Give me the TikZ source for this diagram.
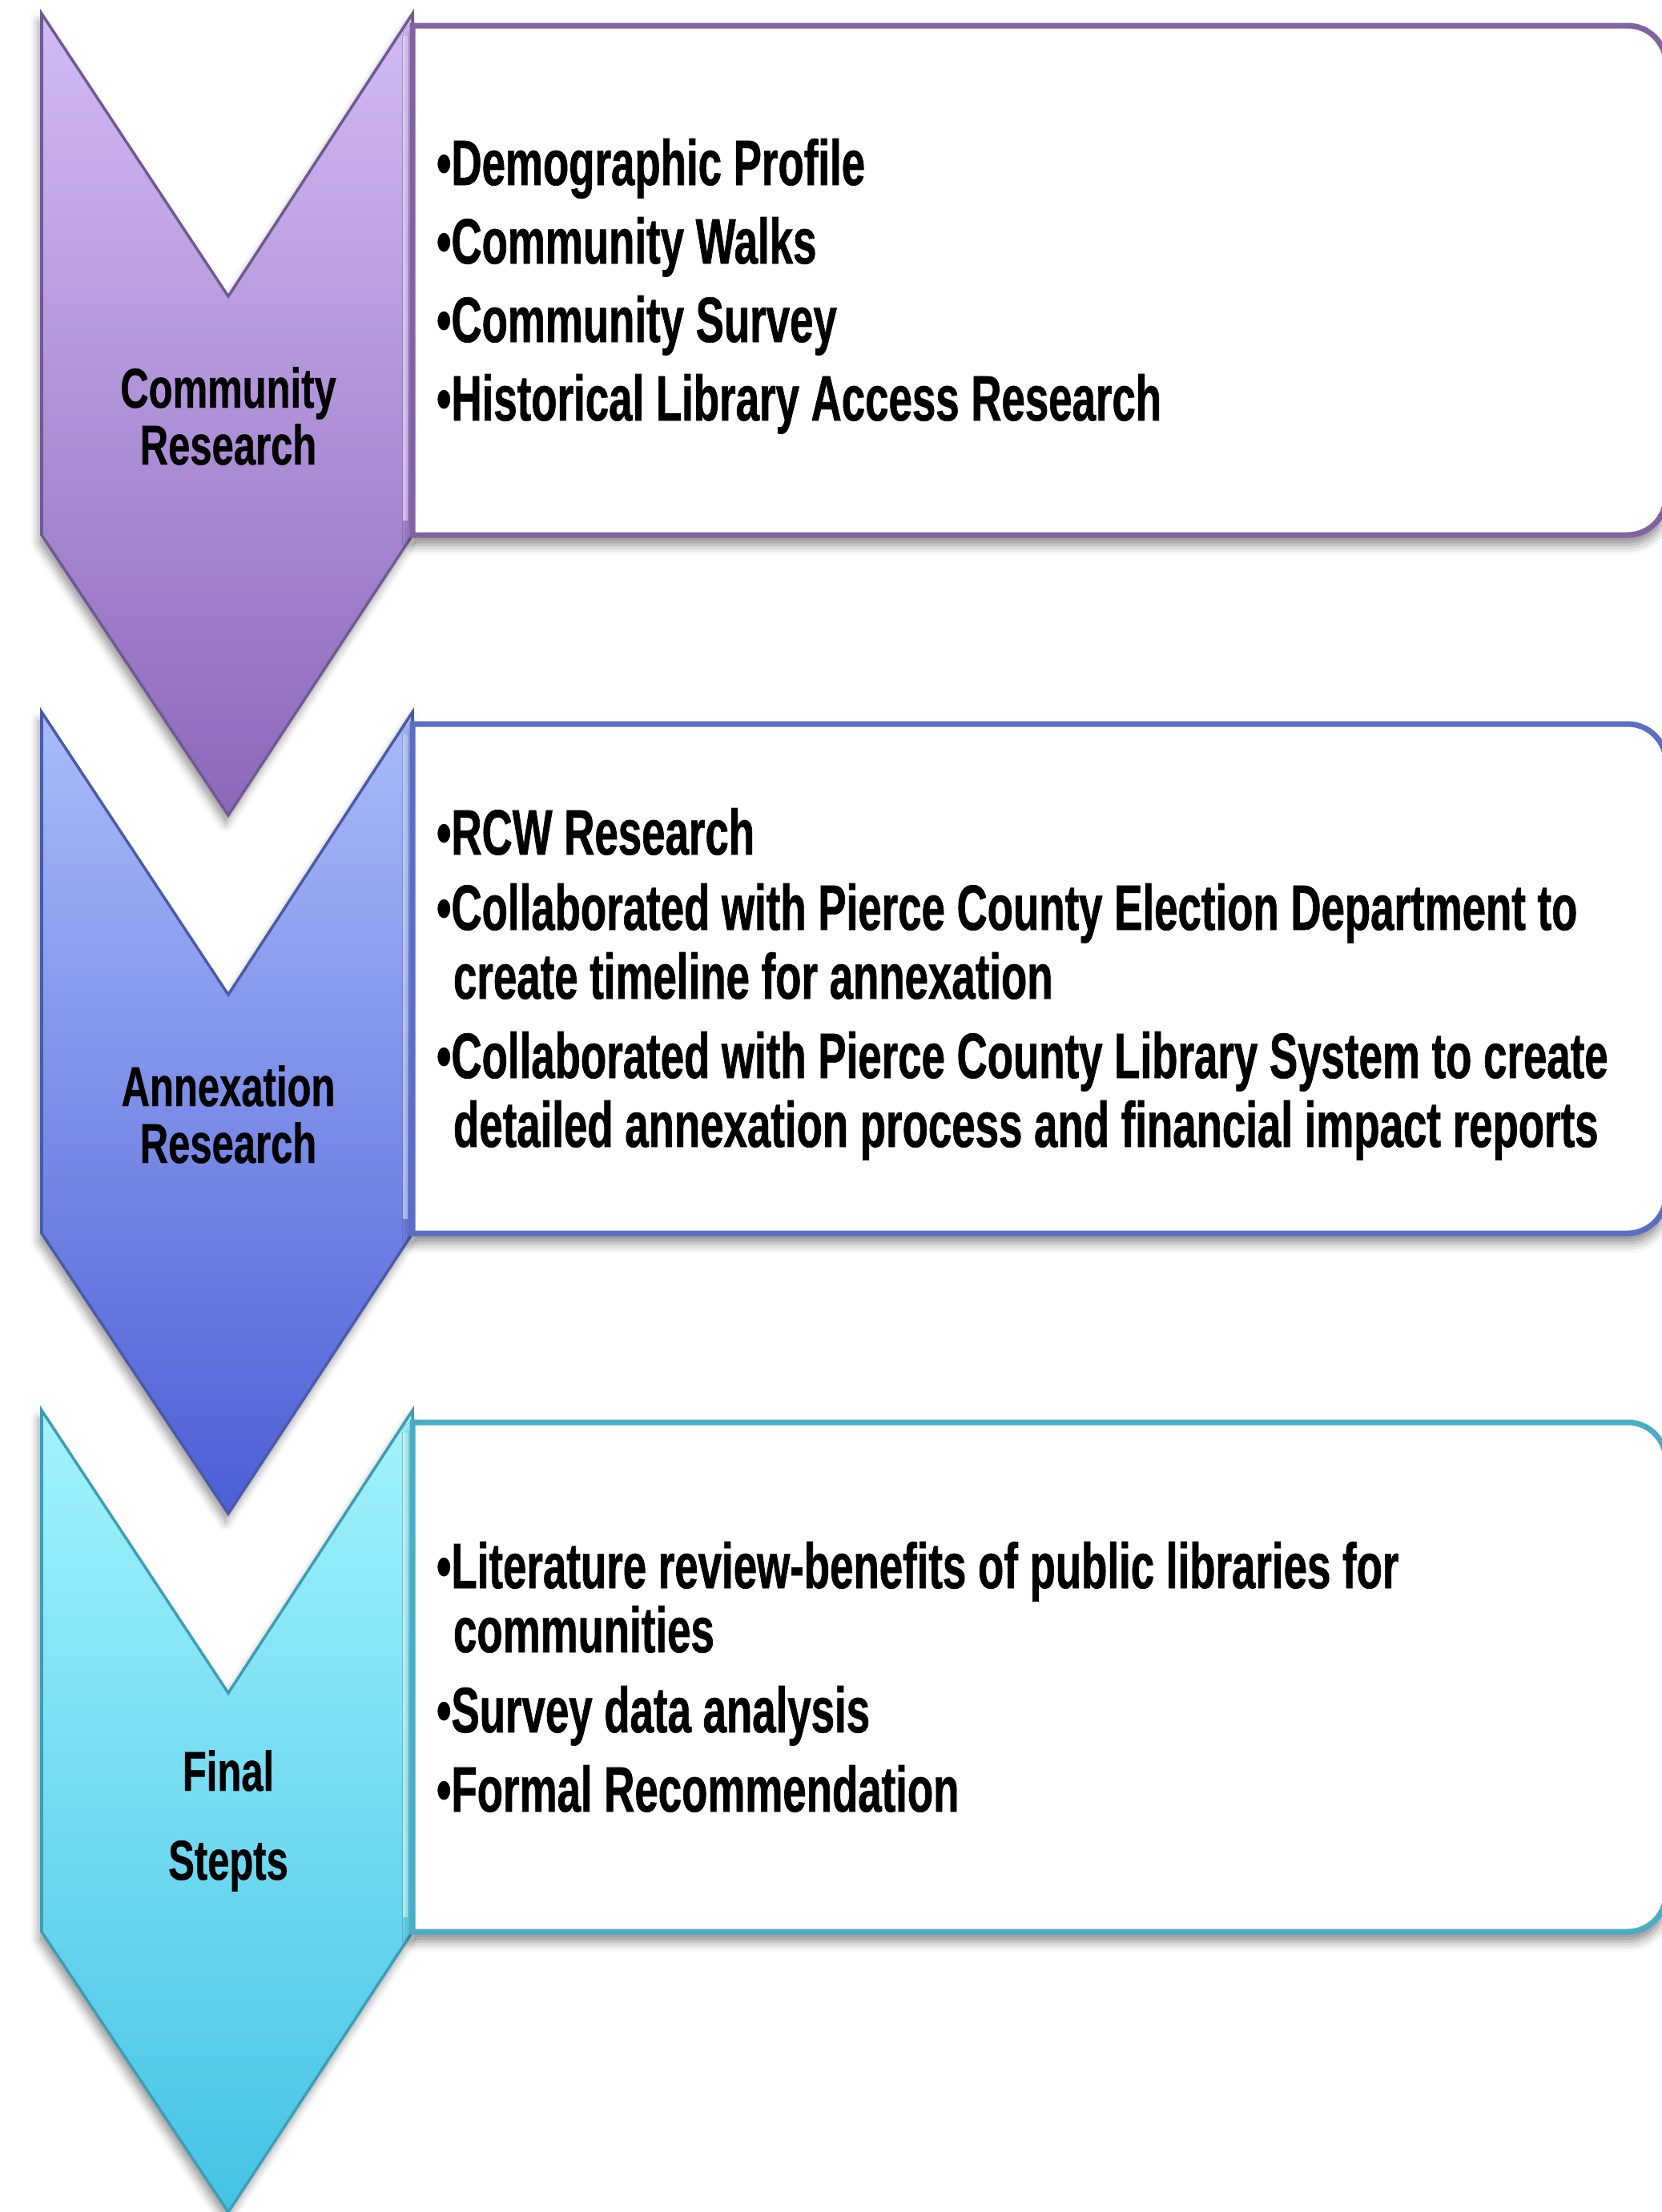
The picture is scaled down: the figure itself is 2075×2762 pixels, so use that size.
\documentclass[tikz,border=0pt]{standalone}
\usepackage{fontspec}
\setmainfont{Liberation Sans}
\newfontfamily\boxfont[FakeStretch=0.66, FakeBold=0.8]{Liberation Sans}
\newfontfamily\labfont[FakeStretch=0.70, FakeBold=0.6]{Liberation Sans}
\usetikzlibrary{shadows.blur}
\definecolor{cAtop}{HTML}{D2BBF4}
\definecolor{cAbot}{HTML}{8B68BB}
\definecolor{cAedge}{HTML}{6F5A92}
\definecolor{cAhl}{HTML}{E6D6FF}
\definecolor{cAbox}{HTML}{8064A2}
\definecolor{cBtop}{HTML}{AABBF9}
\definecolor{cBbot}{HTML}{4D5FD6}
\definecolor{cBedge}{HTML}{4B5AA8}
\definecolor{cBhl}{HTML}{C8D4FF}
\definecolor{cBbox}{HTML}{5C6EC2}
\definecolor{cCtop}{HTML}{A2F3FD}
\definecolor{cCbot}{HTML}{45C3E5}
\definecolor{cCedge}{HTML}{3E9DB5}
\definecolor{cChl}{HTML}{C8FAFF}
\definecolor{cCbox}{HTML}{4BACC6}
\tikzset{
  itemtext/.style={anchor=base west, inner sep=0pt, outer sep=0pt,
    font=\boxfont\bfseries\fontsize{22.76pt}{24pt}\selectfont},
  labtext/.style={anchor=base, inner sep=0pt, outer sep=0pt,
    font=\labfont\bfseries\fontsize{19.9pt}{20pt}\selectfont},
  chevshadow/.style={blur shadow={shadow xshift=-1pt, shadow yshift=-3pt,
    shadow blur radius=3pt, shadow opacity=40}},
  boxshadow/.style={blur shadow={shadow xshift=0pt, shadow yshift=-3.5pt,
    shadow blur radius=3.5pt, shadow opacity=45}},
  chevline/.style={line width=0.035cm, line join=miter},
  boxline/.style={line width=0.07cm, fill=white},
  hlline/.style={line width=0.06cm, opacity=0.8}
}
\begin{document}
\begin{tikzpicture}[x=0.01cm,y=-0.01cm]
\useasboundingbox (0,0) rectangle (2075,2762);
\clip (0,0) rectangle (2075,2762);

% ---------- step 1 ----------
\path[chevshadow, fill=white] (52,17) -- (285,370) -- (515,17) -- (515,668) -- (285,1018) -- (52,668) -- cycle;
\shadedraw[top color=cAtop, bottom color=cAbot, draw=cAedge, chevline]
  (52,17) -- (285,370) -- (515,17) -- (515,668) -- (285,1018) -- (52,668) -- cycle;
\draw[cAhl, hlline] (506,45) -- (506,650);
\path[boxshadow] (515,32) -- (2032,32) arc (-90:0:48) -- (2080,620) arc (0:90:48) -- (515,668) -- cycle;
\draw[cAbox, boxline] (515,32) -- (2032,32) arc (-90:0:48) -- (2080,620) arc (0:90:48) -- (515,668) -- cycle;

% ---------- step 2 ----------
\path[chevshadow, fill=white] (52,889) -- (285,1242) -- (515,889) -- (515,1540) -- (285,1890) -- (52,1540) -- cycle;
\shadedraw[top color=cBtop, bottom color=cBbot, draw=cBedge, chevline]
  (52,889) -- (285,1242) -- (515,889) -- (515,1540) -- (285,1890) -- (52,1540) -- cycle;
\draw[cBhl, hlline] (506,917) -- (506,1522);
\path[boxshadow] (515,904) -- (2032,904) arc (-90:0:48) -- (2080,1492) arc (0:90:48) -- (515,1540) -- cycle;
\draw[cBbox, boxline] (515,904) -- (2032,904) arc (-90:0:48) -- (2080,1492) arc (0:90:48) -- (515,1540) -- cycle;

% ---------- step 3 ----------
\path[chevshadow, fill=white] (52,1761) -- (285,2114) -- (515,1761) -- (515,2412) -- (285,2762) -- (52,2412) -- cycle;
\shadedraw[top color=cCtop, bottom color=cCbot, draw=cCedge, chevline]
  (52,1761) -- (285,2114) -- (515,1761) -- (515,2412) -- (285,2762) -- (52,2412) -- cycle;
\draw[cChl, hlline] (506,1789) -- (506,2394);
\path[boxshadow] (515,1776) -- (2032,1776) arc (-90:0:48) -- (2080,2364) arc (0:90:48) -- (515,2412) -- cycle;
\draw[cCbox, boxline] (515,1776) -- (2032,1776) arc (-90:0:48) -- (2080,2364) arc (0:90:48) -- (515,2412) -- cycle;

% ---------- chevron labels ----------
\node[labtext] (la1) at (285,509) {Community};
\node[labtext] (la2) at (285,580) {Research};
\node[labtext] (lb1) at (285,1381) {Annexation};
\node[labtext] (lb2) at (285,1452) {Research};
\node[labtext] (lc1) at (285,2236) {Final};
\node[labtext] (lc2) at (285,2347) {Stepts};

% ---------- box texts ----------
\node[itemtext] (a1) at (545,231) {•Demographic Profile};
\node[itemtext] (a2) at (545,329) {•Community Walks};
\node[itemtext] (a3) at (545,427) {•Community Survey};
\node[itemtext] (a4) at (545,525) {•Historical Library Access Research};

\node[itemtext] (b1) at (545,1067) {•RCW Research};
\node[itemtext] (b2) at (545,1161) {•Collaborated with Pierce County Election Department to};
\node[itemtext] (b3) at (566,1247) {create timeline for annexation};
\node[itemtext] (b4) at (545,1346) {•Collaborated with Pierce County Library System to create};
\node[itemtext] (b5) at (566,1432) {detailed annexation process and financial impact reports};

\node[itemtext] (c1) at (545,1983) {•Literature review-benefits of public libraries for};
\node[itemtext] (c2) at (566,2063) {communities};
\node[itemtext] (c3) at (545,2163) {•Survey data analysis};
\node[itemtext] (c4) at (545,2262) {•Formal Recommendation};
\end{tikzpicture}
\end{document}
